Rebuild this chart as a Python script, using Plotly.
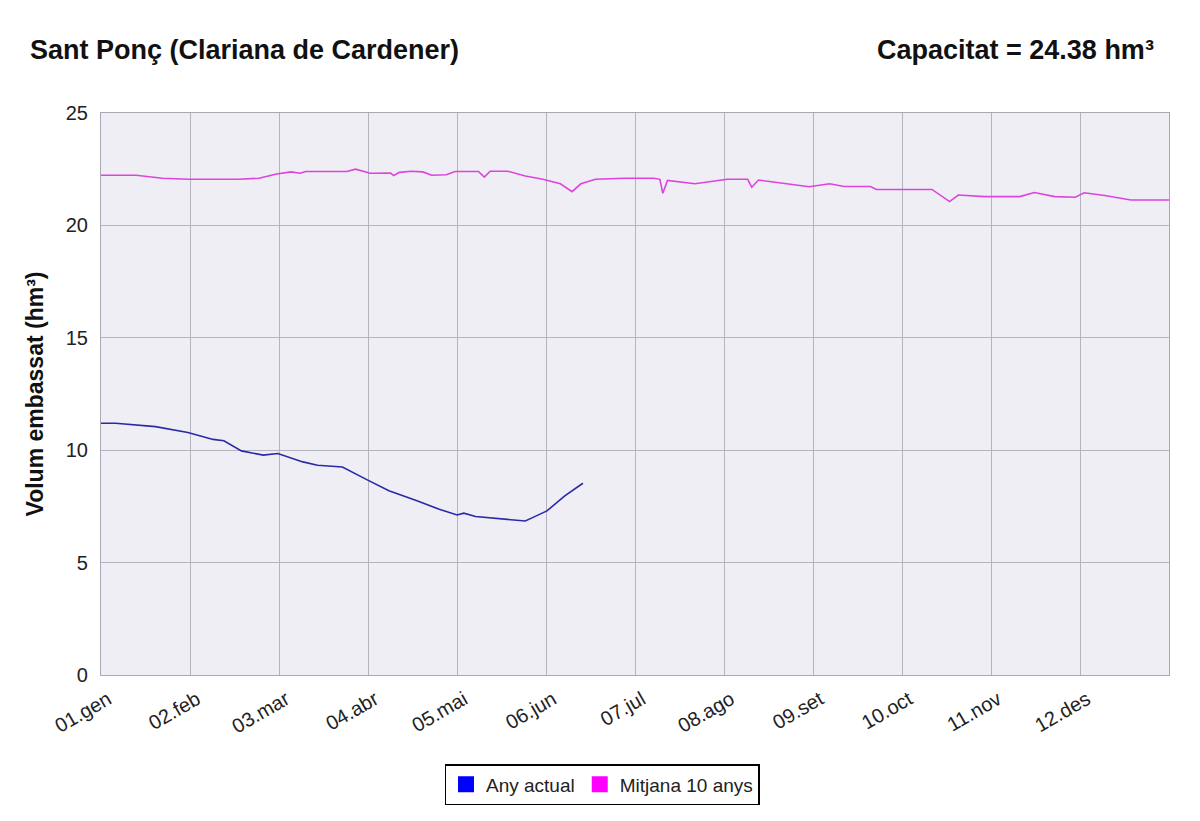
import plotly.graph_objects as go

# ---- data ----
month_labels = ["01.gen", "02.feb", "03.mar", "04.abr", "05.mai", "06.jun",
                "07.jul", "08.ago", "09.set", "10.oct", "11.nov", "12.des"]

actual_days = [0, 5, 18.6, 29.7, 38.3, 42, 48, 55.5, 60.4, 69, 74, 82.5, 91, 98.4,
               108, 115.6, 121.7, 124, 128, 139, 145, 147.5, 152.4, 158.5, 164.7]
actual_vals = [11.2, 11.2, 11.05, 10.79, 10.48, 10.42, 9.97, 9.78, 9.85, 9.48, 9.33,
               9.25, 8.68, 8.2, 7.75, 7.37, 7.12, 7.2, 7.05, 6.93, 6.85, 7.0, 7.3,
               7.97, 8.53]

mean_days = [0, 12, 21, 30, 47, 54, 60, 65, 68, 70, 84, 87, 92, 99, 100, 102, 106,
             110, 113, 118, 121, 129, 131, 133, 139, 145, 151, 157, 161, 164, 169,
             179, 189, 191, 192, 193.6, 203, 214, 221, 222.4, 224.7, 232, 242, 249,
             254, 263, 265, 284, 290, 293, 302, 314, 319, 326, 333, 336, 343, 352, 365]
mean_vals = [22.23, 22.23, 22.10, 22.05, 22.05, 22.10, 22.29, 22.38, 22.32, 22.40,
             22.40, 22.50, 22.32, 22.33, 22.22, 22.36, 22.41, 22.38, 22.23, 22.25,
             22.40, 22.40, 22.15, 22.41, 22.41, 22.20, 22.05, 21.85, 21.50, 21.85,
             22.05, 22.10, 22.10, 22.05, 21.43, 22.00, 21.85, 22.05, 22.05, 21.70,
             22.02, 21.90, 21.72, 21.85, 21.73, 21.73, 21.60, 21.60, 21.06, 21.35,
             21.28, 21.28, 21.46, 21.28, 21.25, 21.45, 21.33, 21.13, 21.13]

year_days = 365
tick_vals = [i * year_days / 12 for i in range(12)]

FONT = "Liberation Sans, Arial, sans-serif"
BLUE = "#0000ff"
MAGENTA = "#ff00ff"

W, H = 1192, 813  # page adds an 8px body margin

fig = go.Figure()
fig.add_trace(go.Scatter(x=mean_days, y=mean_vals, mode="lines",
                         line=dict(color="#dd44dd", width=1.6), showlegend=False))
fig.add_trace(go.Scatter(x=actual_days, y=actual_vals, mode="lines",
                         line=dict(color="#2a2aa8", width=1.6), showlegend=False))
# legend entries (square swatches)
fig.add_trace(go.Scatter(x=[None], y=[None], mode="markers", name="Any actual",
                         marker=dict(symbol="square", size=16, color=BLUE)))
fig.add_trace(go.Scatter(x=[None], y=[None], mode="markers", name="Mitjana 10 anys",
                         marker=dict(symbol="square", size=16, color=MAGENTA)))

fig.update_layout(
    width=W, height=H,
    margin=dict(l=93, r=31, t=105, b=146),
    paper_bgcolor="white",
    plot_bgcolor="#eeeef4",
    font=dict(family=FONT, size=19, color="#222222"),
    title=dict(text="<b>Sant Ponç (Clariana de Cardener)</b>",
               x=22 / W, xanchor="left", y=1 - 42 / H, yanchor="middle",
               font=dict(family=FONT, size=27, color="#111111")),
    annotations=[dict(text="<b>Capacitat = 24.38 hm³</b>", xref="paper", yref="paper",
                      x=(1156 - 101) / 1068, y=(675 - 50) / 562,
                      xanchor="right", yanchor="middle", showarrow=False,
                      font=dict(family=FONT, size=27, color="#111111"))],
    legend=dict(orientation="h", x=(602 - 101) / 1068, xanchor="center",
                y=(675 - 764) / 562, yanchor="top",
                bordercolor="#000000", borderwidth=1.5, bgcolor="white",
                font=dict(family=FONT, size=19, color="#222222"),
                itemwidth=30),
    showlegend=True,
)

fig.update_xaxes(range=[0, year_days], tickvals=tick_vals, ticktext=month_labels,
                 tickangle=-30, showgrid=True, gridcolor="#b4b4c0", gridwidth=1.2,
                 showline=True, linecolor="#a8a8b4", linewidth=1.2, mirror=True,
                 zeroline=False, ticks="", ticklabelshift=7, ticklabelstandoff=4,
                 tickfont=dict(family=FONT, size=20, color="#222222"))
fig.update_yaxes(range=[0, 25], dtick=5, showgrid=True, gridcolor="#b4b4c0", gridwidth=1.2,
                 showline=True, linecolor="#a8a8b4", linewidth=1.2, mirror=True,
                 zeroline=False, ticks="outside", ticklen=8, tickcolor="rgba(0,0,0,0)",
                 tickfont=dict(family=FONT, size=20, color="#222222"),
                 title=dict(text="<b>Volum embassat (hm³)</b>", standoff=15,
                            font=dict(family=FONT, size=23, color="#111111")))

fig.write_html("out.html")
